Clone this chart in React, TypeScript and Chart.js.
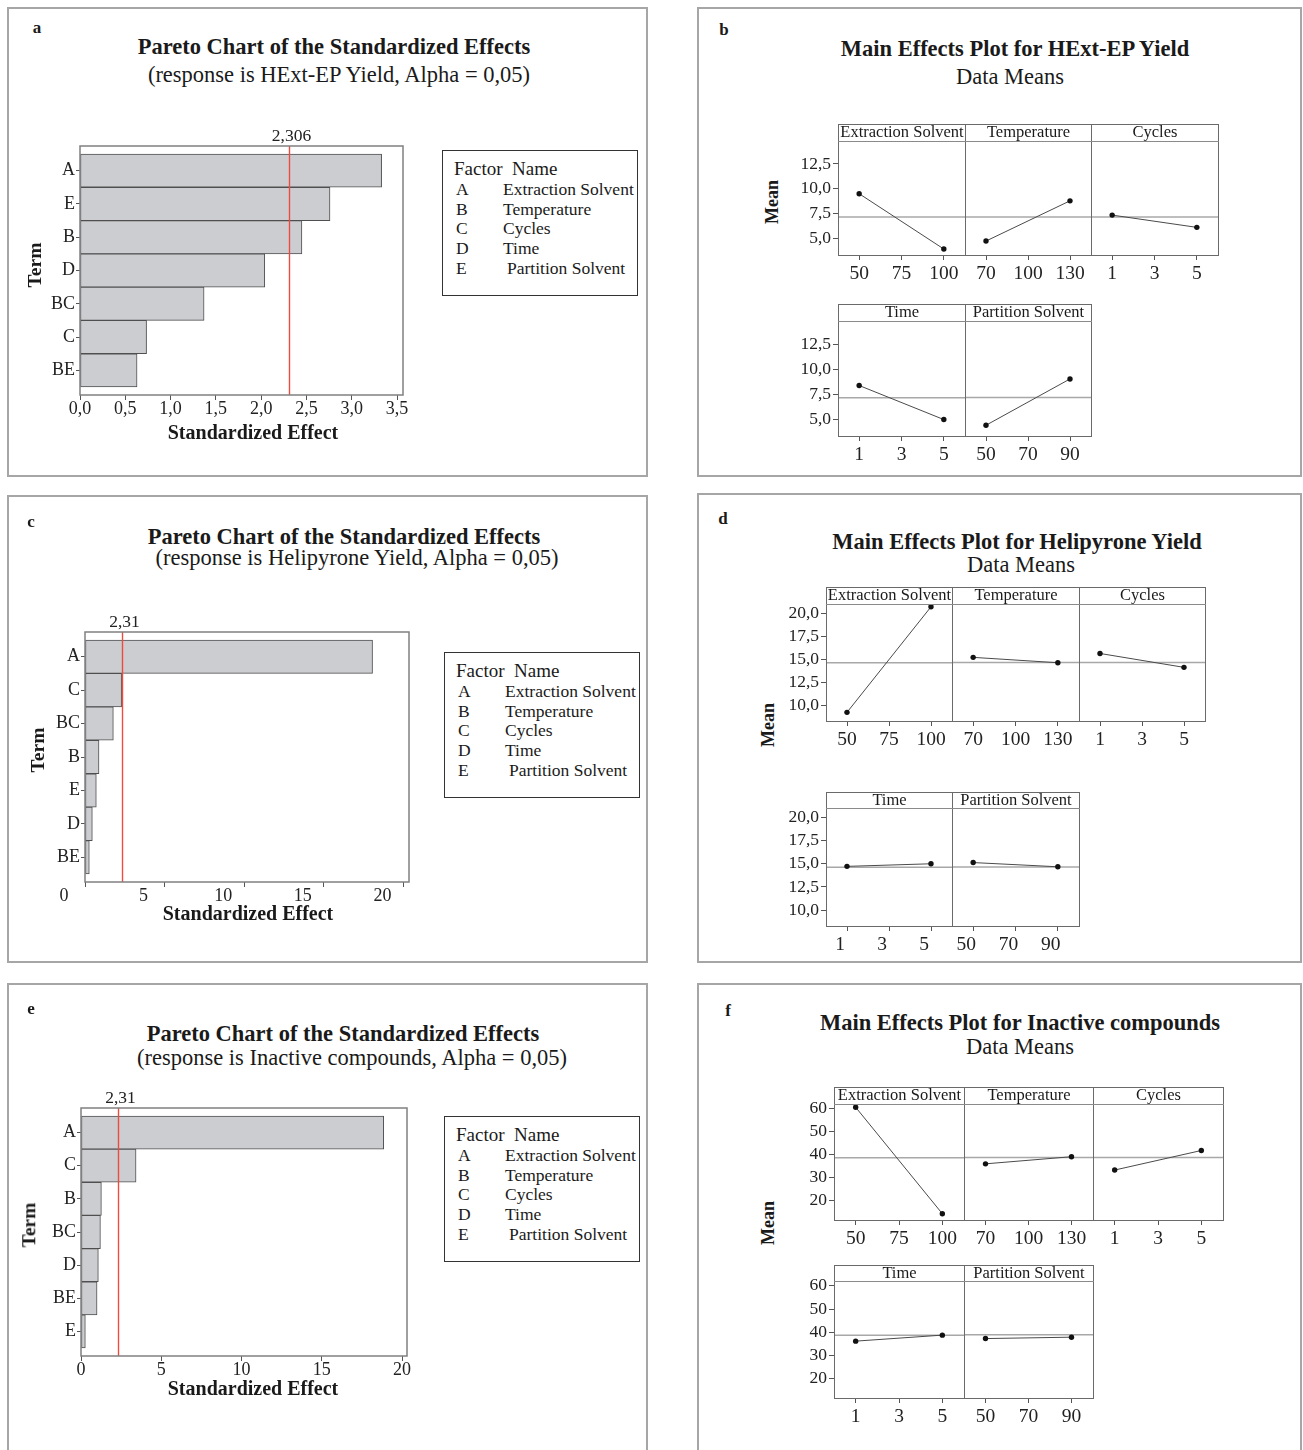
import React, { useEffect, useRef } from "react";
import { Chart, registerables } from "chart.js";

Chart.register(...registerables);

const FONT = "'Liberation Serif', 'Times New Roman', Times, serif";
Chart.defaults.font.family = FONT;
Chart.defaults.color = "#222";

// ---------------- DATA ----------------
const factorLetters = ["A", "B", "C", "D", "E"];
const factorNames = ["Extraction Solvent", "Temperature", "Cycles", "Time", "Partition Solvent"];

// Pareto a (HExt-EP Yield)
const paretoATerms = ["A", "E", "B", "D", "BC", "C", "BE"];
const paretoAEffects = [3.33, 2.76, 2.45, 2.04, 1.37, 0.735, 0.63];
const paretoACritical = 2.306;
const paretoACriticalLabel = "2,306";
const paretoATickValues = [0, 0.5, 1, 1.5, 2, 2.5, 3, 3.5];
const paretoATickLabels = ["0,0", "0,5", "1,0", "1,5", "2,0", "2,5", "3,0", "3,5"];

// Pareto c (Helipyrone Yield)
const paretoCTerms = ["A", "C", "BC", "B", "E", "D", "BE"];
const paretoCEffects = [18.06, 2.3, 1.78, 0.88, 0.71, 0.46, 0.27];
const paretoCCritical = 2.31;
const paretoCCriticalLabel = "2,31";
const paretoCTickValues = [0, 5, 10, 15, 20];
const paretoCTickLabels = ["0", "5", "10", "15", "20"];

// Pareto e (Inactive compounds)
const paretoETerms = ["A", "C", "B", "BC", "D", "BE", "E"];
const paretoEEffects = [18.86, 3.43, 1.27, 1.21, 1.08, 1.0, 0.27];
const paretoECritical = 2.31;
const paretoECriticalLabel = "2,31";
const paretoETickValues = [0, 5, 10, 15, 20];
const paretoETickLabels = ["0", "5", "10", "15", "20"];

// Main effects: factor levels and x tick values
const levelsExtraction = [50, 100];
const levelsTemperature = [70, 130];
const levelsCycles = [1, 5];
const levelsTime = [1, 5];
const levelsPartition = [50, 90];
const ticksExtraction = [50, 75, 100];
const ticksTemperature = [70, 100, 130];
const ticksCycles = [1, 3, 5];
const ticksTime = [1, 3, 5];
const ticksPartition = [50, 70, 90];

// b: HExt-EP Yield means
const hextExtraction = [9.5, 3.93];
const hextTemperature = [4.73, 8.76];
const hextCycles = [7.33, 6.1];
const hextTime = [8.37, 4.97];
const hextPartition = [4.4, 9.0];
const hextGrandMean = 7.15;
const hextYTicks = [5, 7.5, 10, 12.5];
const hextYTickLabels = ["5,0", "7,5", "10,0", "12,5"];

// d: Helipyrone Yield means
const heliExtraction = [9.24, 20.7];
const heliTemperature = [15.18, 14.6];
const heliCycles = [15.6, 14.1];
const heliTime = [14.72, 15.0];
const heliPartition = [15.1, 14.65];
const heliGrandMean = 14.62;
const heliYTicks = [10, 12.5, 15, 17.5, 20];
const heliYTickLabels = ["10,0", "12,5", "15,0", "17,5", "20,0"];

// f: Inactive compounds means
const inactExtraction = [60.7, 14.24];
const inactTemperature = [35.9, 39.0];
const inactCycles = [33.2, 41.7];
const inactTime = [36.1, 38.7];
const inactPartition = [37.1, 37.7];
const inactGrandMean = 38.7;
const inactYTicks = [20, 30, 40, 50, 60];
const inactYTickLabels = ["20", "30", "40", "50", "60"];

// ---------------- HELPERS ----------------
function CanvasChart({ left, top, width, height, make }: { left: number; top: number; width: number; height: number; make: () => any }) {
  const ref = useRef<HTMLCanvasElement | null>(null);
  useEffect(() => {
    const chart = new Chart(ref.current as HTMLCanvasElement, make());
    return () => chart.destroy();
  }, []);
  return (
    <canvas
      ref={ref}
      width={width}
      height={height}
      style={{ position: "absolute", left, top, width, height, display: "block" }}
    />
  );
}

function Txt({ x, y, children, size = 17, bold = false, rotate = false, align = "center" }: any) {
  const tx = align === "center" ? "-50%" : "0";
  return (
    <div
      style={{
        position: "absolute",
        left: x,
        top: y,
        transform: `translate(${tx}, -50%)` + (rotate ? " rotate(-90deg)" : ""),
        whiteSpace: "nowrap",
        fontFamily: FONT,
        fontSize: size,
        fontWeight: bold ? "bold" : "normal",
        lineHeight: 1,
        color: "#1a1a1a",
      }}
    >
      {children}
    </div>
  );
}

function Frame({ left, top, width, height }: any) {
  return (
    <div
      style={{
        position: "absolute",
        left,
        top,
        width,
        height,
        border: "2px solid #a6a6a6",
        boxSizing: "border-box",
      }}
    />
  );
}

function FactorLegend({ left, top }: { left: number; top: number }) {
  const rowYs = [40, 59.7, 79.3, 99, 118.7];
  return (
    <>
      <div
        style={{
          position: "absolute",
          left,
          top,
          width: 196,
          height: 146,
          border: "1.5px solid #333",
          boxSizing: "border-box",
        }}
      />
      <Txt x={left + 12} y={top + 18} size={19} align="left">
        Factor&nbsp;&nbsp;Name
      </Txt>
      {factorLetters.map((l, i) => (
        <React.Fragment key={l}>
          <Txt x={left + 14} y={top + rowYs[i]} size={17.5} align="left">
            {l}
          </Txt>
          <Txt x={left + (i === 4 ? 65 : 61)} y={top + rowYs[i]} size={17.5} align="left">
            {factorNames[i]}
          </Txt>
        </React.Fragment>
      ))}
    </>
  );
}

const tickGrid = (len: number) => ({
  display: true,
  drawOnChartArea: false,
  drawTicks: true,
  tickLength: len,
  color: "#555",
  lineWidth: 1,
  offset: false,
});

// ---------------- PARETO ----------------
const P_LEFT = 50;
const P_TOP = 30;
const P_RIGHT = 22;
const P_BOTTOM = 30;
const P_MARGIN = 0.74; // empty space (in bar units) above first and below last bar

function paretoConfig(
  terms: string[],
  effects: number[],
  critical: number,
  critLabel: string,
  tickValues: number[],
  tickLabels: string[],
  xMax: number,
  labelOffset: number
) {
  const critPlugin = {
    id: "critLine",
    afterDatasetsDraw(chart: any) {
      const { ctx, chartArea, scales } = chart;
      const x = Math.round(scales.x.getPixelForValue(critical)) + 0.5;
      ctx.save();
      ctx.strokeStyle = "#ee4b40";
      ctx.lineWidth = 1.4;
      ctx.beginPath();
      ctx.moveTo(x, chartArea.top);
      ctx.lineTo(x, chartArea.bottom);
      ctx.stroke();
      ctx.fillStyle = "#222";
      ctx.font = `17.5px ${FONT}`;
      ctx.textAlign = "center";
      ctx.textBaseline = "bottom";
      ctx.fillText(critLabel, x + 2, chartArea.top - 1);
      ctx.restore();
    },
    afterDraw(chart: any) {
      const { ctx, chartArea } = chart;
      ctx.save();
      ctx.strokeStyle = "#808080";
      ctx.lineWidth = 1.5;
      ctx.strokeRect(chartArea.left, chartArea.top, chartArea.right - chartArea.left, chartArea.bottom - chartArea.top);
      ctx.restore();
    },
  };
  return {
    type: "bar",
    data: {
      datasets: [
        {
          data: effects.map((v, i) => ({ x: v, y: i })),
          backgroundColor: "#cccdd1",
          borderColor: "#4f4f4f",
          borderWidth: 1,
          borderSkipped: false,
          barPercentage: 1,
          categoryPercentage: 1,
        },
      ],
    },
    options: {
      indexAxis: "y",
      animation: false,
      responsive: false,
      maintainAspectRatio: false,
      layout: { padding: { top: P_TOP, right: P_RIGHT, left: 0, bottom: 0 } },
      plugins: { legend: { display: false }, tooltip: { enabled: false } },
      scales: {
        x: {
          type: "linear",
          min: 0,
          max: xMax,
          afterBuildTicks: (s: any) => {
            s.ticks = tickValues.map((v) => ({ value: v }));
          },
          afterFit: (s: any) => {
            s.height = P_BOTTOM;
          },
          ticks: {
            callback: (_v: any, i: number) => tickLabels[i],
            font: { size: 18 },
            color: "#222",
            padding: -2,
            labelOffset,
            maxRotation: 0,
            autoSkip: false,
          },
          grid: tickGrid(5),
          border: { display: false },
        },
        y: {
          type: "linear",
          offset: false,
          reverse: true,
          min: -P_MARGIN,
          max: terms.length - 1 + P_MARGIN,
          afterBuildTicks: (s: any) => {
            s.ticks = terms.map((_t, i) => ({ value: i }));
          },
          afterFit: (s: any) => {
            s.width = P_LEFT;
          },
          ticks: {
            callback: (_v: any, i: number) => terms[i],
            font: { size: 18 },
            color: "#222",
            padding: 1,
            autoSkip: false,
          },
          grid: tickGrid(4),
          border: { display: false },
        },
      },
    },
    plugins: [critPlugin],
  };
}

function Pareto({ area, cfg }: { area: { L: number; R: number; T: number; B: number }; cfg: () => any }) {
  const left = area.L - P_LEFT;
  const top = area.T - P_TOP;
  const width = area.R - area.L + P_LEFT + P_RIGHT;
  const height = area.B - area.T + P_TOP + P_BOTTOM;
  return <CanvasChart left={left} top={top} width={width} height={height} make={cfg} />;
}

// ---------------- MAIN EFFECTS ----------------
const M_LEFT = 60;
const M_RIGHT = 22;
const M_TOP = 12;
const M_BOTTOM = 36;

function effectConfig(
  levels: number[],
  means: number[],
  grand: number,
  xTicks: number[],
  yTicks: number[],
  yTickLabels: string[],
  yMin: number,
  yMax: number,
  showY: boolean,
  labelOffset: number
) {
  const span = levels[1] - levels[0];
  const xMin = levels[0] - span / 4;
  const xMax = levels[1] + span / 4;
  return {
    type: "line",
    data: {
      datasets: [
        {
          data: levels.map((l, i) => ({ x: l, y: means[i] })),
          borderColor: "#4a4a4a",
          borderWidth: 1,
          pointRadius: 2.7,
          pointBackgroundColor: "#111",
          pointBorderWidth: 0,
          clip: false,
        },
        {
          data: [
            { x: xMin, y: grand },
            { x: xMax, y: grand },
          ],
          borderColor: "#a8a8a8",
          borderWidth: 1.5,
          pointRadius: 0,
        },
      ],
    },
    options: {
      animation: false,
      responsive: false,
      maintainAspectRatio: false,
      layout: { padding: { top: M_TOP, right: M_RIGHT, left: 0, bottom: 0 } },
      plugins: { legend: { display: false }, tooltip: { enabled: false } },
      scales: {
        x: {
          type: "linear",
          min: xMin,
          max: xMax,
          afterBuildTicks: (s: any) => {
            s.ticks = xTicks.map((v) => ({ value: v }));
          },
          afterFit: (s: any) => {
            s.height = M_BOTTOM;
          },
          ticks: {
            callback: (v: any) => String(v),
            font: { size: 19.5 },
            color: "#222",
            padding: 2,
            labelOffset,
            maxRotation: 0,
            autoSkip: false,
          },
          grid: tickGrid(5),
          border: { display: false },
        },
        y: {
          type: "linear",
          display: showY,
          min: yMin,
          max: yMax,
          afterBuildTicks: (s: any) => {
            s.ticks = yTicks.map((v) => ({ value: v }));
          },
          afterFit: (s: any) => {
            s.width = M_LEFT;
          },
          ticks: {
            callback: (_v: any, i: number) => yTickLabels[i],
            font: { size: 17.5 },
            color: "#222",
            padding: 2,
            autoSkip: false,
          },
          grid: tickGrid(5),
          border: { display: false },
        },
      },
    },
  };
}

type SubSpec = { name: string; levels: number[]; means: number[]; xTicks: number[] };
type RowGeom = { top: number; header: number; bottom: number; labelOffset: number };

function EffectsRow({
  x0,
  w,
  row,
  subs,
  grand,
  yTicks,
  yTickLabels,
  yMin,
  yMax,
}: {
  x0: number;
  w: number;
  row: RowGeom;
  subs: SubSpec[];
  grand: number;
  yTicks: number[];
  yTickLabels: string[];
  yMin: number;
  yMax: number;
}) {
  return (
    <>
      {subs.map((s, i) => {
        const xl = Math.round(x0 + i * w);
        const xr = Math.round(x0 + (i + 1) * w);
        const plotH = row.bottom - row.header;
        return (
          <React.Fragment key={s.name}>
            <CanvasChart
              left={xl - M_LEFT}
              top={row.header - M_TOP}
              width={xr - xl + M_LEFT + M_RIGHT}
              height={plotH + M_TOP + M_BOTTOM}
              make={() =>
                effectConfig(s.levels, s.means, grand, s.xTicks, yTicks, yTickLabels, yMin, yMax, i === 0, row.labelOffset)
              }
            />
            <div
              style={{
                position: "absolute",
                left: xl,
                top: row.top,
                width: xr - xl + 1,
                height: row.bottom - row.top + 1,
                border: "1px solid #6a6a6a",
                boxSizing: "border-box",
              }}
            />
            <div
              style={{
                position: "absolute",
                left: xl,
                top: row.top,
                width: xr - xl + 1,
                height: row.header - row.top + 1,
                borderBottom: "1.5px solid #8a8a8a",
                boxSizing: "border-box",
                display: "flex",
                alignItems: "center",
                justifyContent: "center",
                fontFamily: FONT,
                fontSize: 16.5,
                lineHeight: 1,
                color: "#1a1a1a",
                whiteSpace: "nowrap",
                overflow: "visible",
              }}
            >
              {s.name}
            </div>
          </React.Fragment>
        );
      })}
    </>
  );
}

function EffectsPanel({
  x0,
  w,
  rows,
  data,
  grand,
  yTicks,
  yTickLabels,
  yMin,
  yMax,
}: {
  x0: number;
  w: number;
  rows: RowGeom[];
  data: number[][];
  grand: number;
  yTicks: number[];
  yTickLabels: string[];
  yMin: number;
  yMax: number;
}) {
  const subsAll: SubSpec[] = [
    { name: factorNames[0], levels: levelsExtraction, means: data[0], xTicks: ticksExtraction },
    { name: factorNames[1], levels: levelsTemperature, means: data[1], xTicks: ticksTemperature },
    { name: factorNames[2], levels: levelsCycles, means: data[2], xTicks: ticksCycles },
    { name: factorNames[3], levels: levelsTime, means: data[3], xTicks: ticksTime },
    { name: factorNames[4], levels: levelsPartition, means: data[4], xTicks: ticksPartition },
  ];
  return (
    <>
      <EffectsRow x0={x0} w={w} row={rows[0]} subs={subsAll.slice(0, 3)} grand={grand} yTicks={yTicks} yTickLabels={yTickLabels} yMin={yMin} yMax={yMax} />
      <EffectsRow x0={x0} w={w} row={rows[1]} subs={subsAll.slice(3, 5)} grand={grand} yTicks={yTicks} yTickLabels={yTickLabels} yMin={yMin} yMax={yMax} />
    </>
  );
}

// ---------------- APP ----------------
export default function App() {
  return (
    <div
      style={{
        position: "absolute",
        left: 0,
        top: 0,
        width: 1303,
        height: 1450,
        overflow: "hidden",
        background: "#fff",
        fontFamily: FONT,
      }}
    >
      {/* Panel frames */}
      <Frame left={7} top={7} width={641} height={470} />
      <Frame left={697} top={7} width={605} height={470} />
      <Frame left={7} top={495} width={641} height={468} />
      <Frame left={697} top={493} width={605} height={470} />
      <Frame left={7} top={983} width={641} height={490} />
      <Frame left={697} top={983} width={605} height={490} />

      {/* ---- a ---- */}
      <Txt x={37} y={27} bold size={17}>a</Txt>
      <Txt x={334} y={47} bold size={22.5}>Pareto Chart of the Standardized Effects</Txt>
      <Txt x={339} y={75} size={22.5}>(response is HExt-EP Yield, Alpha = 0,05)</Txt>
      <Pareto
        area={{ L: 80, R: 403, T: 146, B: 395 }}
        cfg={() =>
          paretoConfig(paretoATerms, paretoAEffects, paretoACritical, paretoACriticalLabel, paretoATickValues, paretoATickLabels, 3.566, 0)
        }
      />
      <Txt x={253} y={432} bold size={20}>Standardized Effect</Txt>
      <Txt x={35} y={265} bold size={19.5} rotate>Term</Txt>
      <FactorLegend left={442} top={150} />

      {/* ---- b ---- */}
      <Txt x={724} y={29} bold size={17}>b</Txt>
      <Txt x={1015} y={49} bold size={22.5}>Main Effects Plot for HExt-EP Yield</Txt>
      <Txt x={1010} y={77} size={22.5}>Data Means</Txt>
      <Txt x={772} y={202} bold size={18} rotate>Mean</Txt>
      <EffectsPanel
        x0={838}
        w={126.7}
        rows={[
          { top: 124, header: 141, bottom: 255, labelOffset: 0 },
          { top: 304, header: 321, bottom: 436, labelOffset: 0 },
        ]}
        data={[hextExtraction, hextTemperature, hextCycles, hextTime, hextPartition]}
        grand={hextGrandMean}
        yTicks={hextYTicks}
        yTickLabels={hextYTickLabels}
        yMin={3.33}
        yMax={14.76}
      />

      {/* ---- c ---- */}
      <Txt x={31} y={521} bold size={17}>c</Txt>
      <Txt x={344} y={537} bold size={22.5}>Pareto Chart of the Standardized Effects</Txt>
      <Txt x={357} y={558} size={22.5}>(response is Helipyrone Yield, Alpha = 0,05)</Txt>
      <Pareto
        area={{ L: 85, R: 409, T: 632, B: 882 }}
        cfg={() =>
          paretoConfig(paretoCTerms, paretoCEffects, paretoCCritical, paretoCCriticalLabel, paretoCTickValues, paretoCTickLabels, 20.35, -21)
        }
      />
      <Txt x={248} y={913} bold size={20}>Standardized Effect</Txt>
      <Txt x={38} y={750} bold size={19.5} rotate>Term</Txt>
      <FactorLegend left={444} top={652} />

      {/* ---- d ---- */}
      <Txt x={723} y={518} bold size={17}>d</Txt>
      <Txt x={1017} y={542} bold size={22.5}>Main Effects Plot for Helipyrone Yield</Txt>
      <Txt x={1021} y={565} size={22.5}>Data Means</Txt>
      <Txt x={768} y={725} bold size={18} rotate>Mean</Txt>
      <EffectsPanel
        x0={826}
        w={126.3}
        rows={[
          { top: 587, header: 604, bottom: 721, labelOffset: 0 },
          { top: 792, header: 808, bottom: 926, labelOffset: -7 },
        ]}
        data={[heliExtraction, heliTemperature, heliCycles, heliTime, heliPartition]}
        grand={heliGrandMean}
        yTicks={heliYTicks}
        yTickLabels={heliYTickLabels}
        yMin={8.3}
        yMax={20.95}
      />

      {/* ---- e ---- */}
      <Txt x={31} y={1008} bold size={17}>e</Txt>
      <Txt x={343} y={1034} bold size={22.5}>Pareto Chart of the Standardized Effects</Txt>
      <Txt x={352} y={1058} size={22.5}>(response is Inactive compounds, Alpha = 0,05)</Txt>
      <Pareto
        area={{ L: 81, R: 407, T: 1108, B: 1356 }}
        cfg={() =>
          paretoConfig(paretoETerms, paretoEEffects, paretoECritical, paretoECriticalLabel, paretoETickValues, paretoETickLabels, 20.31, 0)
        }
      />
      <Txt x={253} y={1388} bold size={20}>Standardized Effect</Txt>
      <Txt x={29} y={1225} bold size={19.5} rotate>Term</Txt>
      <FactorLegend left={444} top={1116} />

      {/* ---- f ---- */}
      <Txt x={728} y={1010} bold size={17}>f</Txt>
      <Txt x={1020} y={1023} bold size={22.5}>Main Effects Plot for Inactive compounds</Txt>
      <Txt x={1020} y={1047} size={22.5}>Data Means</Txt>
      <Txt x={768} y={1223} bold size={18} rotate>Mean</Txt>
      <EffectsPanel
        x0={834}
        w={129.6}
        rows={[
          { top: 1087, header: 1104, bottom: 1220, labelOffset: 0 },
          { top: 1265, header: 1281, bottom: 1398, labelOffset: 0 },
        ]}
        data={[inactExtraction, inactTemperature, inactCycles, inactTime, inactPartition]}
        grand={inactGrandMean}
        yTicks={inactYTicks}
        yTickLabels={inactYTickLabels}
        yMin={11.5}
        yMax={61.9}
      />
    </div>
  );
}
